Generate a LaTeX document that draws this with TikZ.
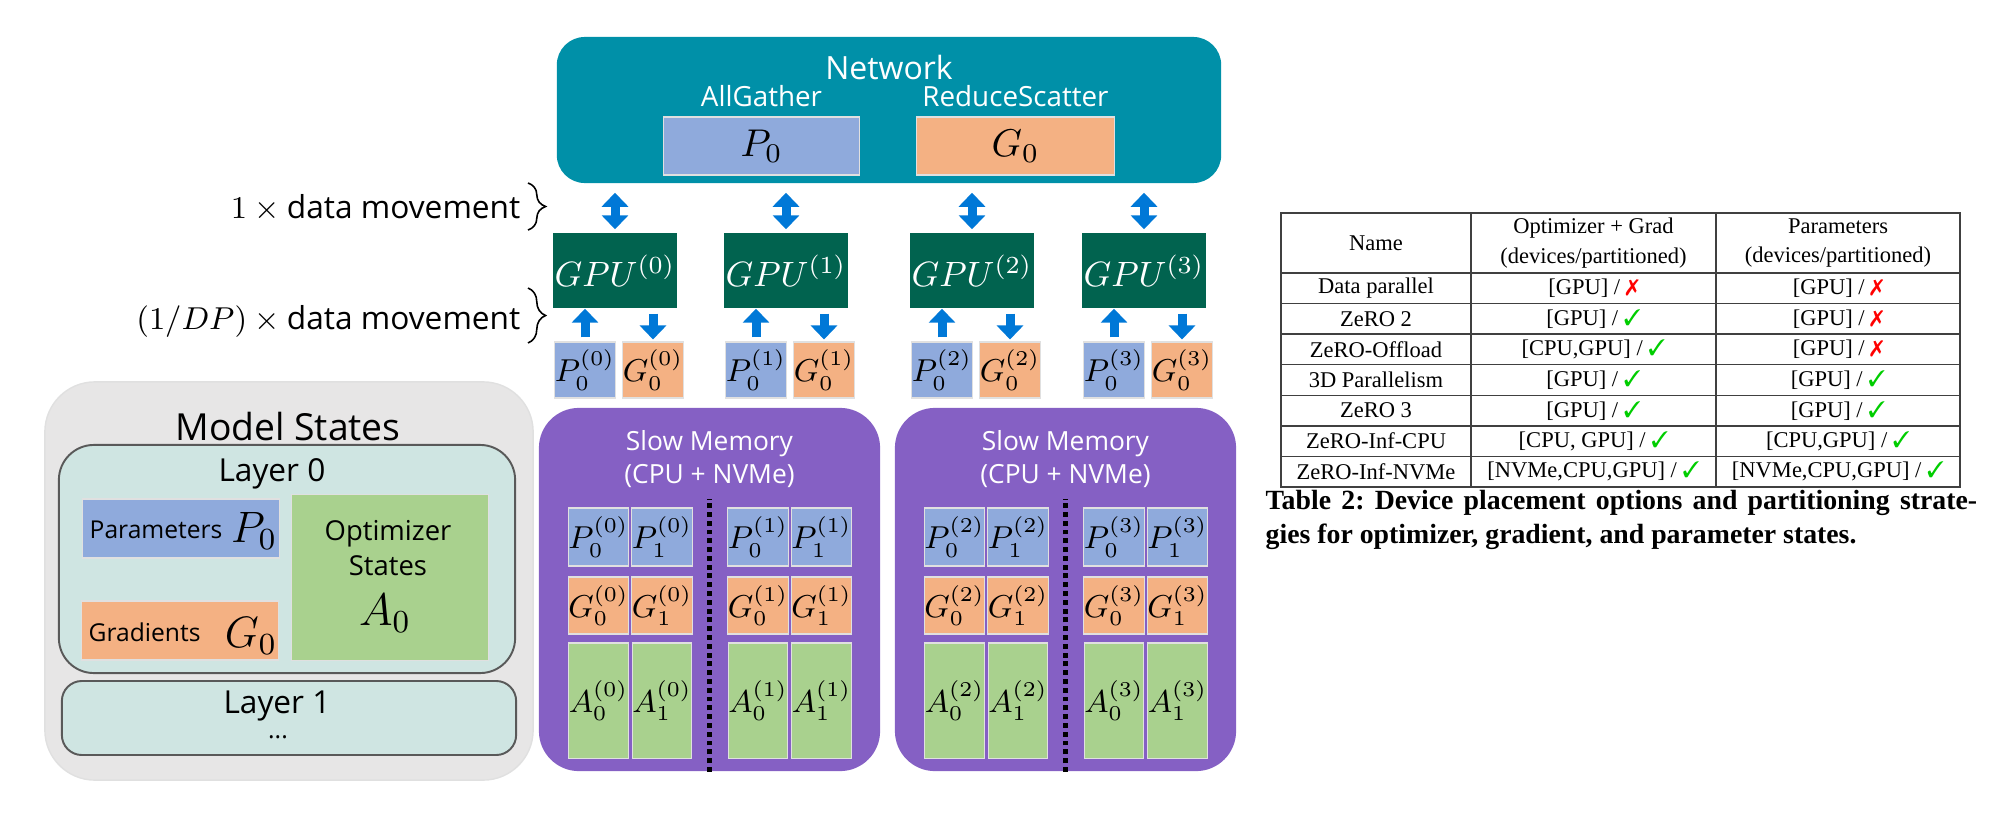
\RequirePackage{fix-cm}
\documentclass[tikz,border=0pt]{standalone}
\usepackage{fontspec}
\setmainfont{Liberation Serif}
\newfontfamily\uisans{Open Sans}
\usepackage{pifont}
\usepackage{xcolor}
\usepackage{tikz}
\usetikzlibrary{positioning,arrows.meta,decorations.pathreplacing}
\definecolor{netteal}{RGB}{0,144,168}
\definecolor{gpugreen}{RGB}{1,99,79}
\definecolor{slowpurple}{RGB}{133,96,196}
\definecolor{parblue}{RGB}{143,170,220}
\definecolor{gradorange}{RGB}{244,177,131}
\definecolor{optgreen}{RGB}{169,209,142}
\definecolor{layerfill}{RGB}{207,229,226}
\definecolor{statesgray}{RGB}{231,230,230}
\definecolor{arrowblue}{RGB}{0,120,215}
\definecolor{tickgreen}{RGB}{0,205,0}
\newcommand{\fsz}[1]{\fontsize{#1}{#1}\selectfont}
\newcommand{\cmark}{\textcolor{tickgreen}{\ding{51}}}
\newcommand{\xmark}{\textcolor{red}{\ding{55}}}
\newcommand{\slsh}{ / }
\frenchspacing

\begin{document}
\begin{tikzpicture}[x=0.01cm,y=-0.01cm,
  stbox/.style={rectangle,inner sep=0pt},
  uitext/.style={font=\uisans\fsz{#1},inner sep=0pt},
  netbox/.style={stbox,fill=netteal,rounded corners=2.8mm,minimum width=66.4mm,minimum height=14.6mm},
  gpu/.style={stbox,fill=gpugreen,text=white,minimum width=12.4mm,minimum height=7.5mm,font=\fsz{10}},
  pbox/.style={stbox,fill=parblue,draw=black!12,line width=0.3pt},
  gbox/.style={stbox,fill=gradorange,draw=black!12,line width=0.3pt},
  abox/.style={stbox,fill=optgreen,draw=black!12,line width=0.3pt},
  pgsq/.style={minimum width=5.6mm,minimum height=5.6mm,font=\fsz{9}},
  memcell/.style={minimum width=5.7mm,font=\fsz{9}},
  slowmem/.style={stbox,fill=slowpurple,rounded corners=4mm,minimum width=34.1mm,minimum height=36.3mm},
  layer/.style={stbox,fill=layerfill,draw=black!65,line width=0.55pt},
  blockarrow/.style={draw=arrowblue,line width=0.9mm,-{Triangle[width=2.6mm,length=1.4mm]}},
  dblarrow/.style={blockarrow,{Triangle[width=2.6mm,length=1.4mm]}-{Triangle[width=2.6mm,length=1.4mm]}},
  mvbrace/.style={decorate,decoration={brace,amplitude=5pt},line width=0.45pt},
  sepline/.style={line width=1.4pt,dash pattern=on 1.4pt off 1.1pt},
  tcell/.style={draw=black!75,line width=0.4pt,inner sep=0pt,minimum height=3.057mm,font=\fsz{6.4}}]
  \useasboundingbox (0,0) rectangle (2000,821);

  % network with the two collectives
  \node[netbox] (net) at (889,110) {};
  \node[uitext=9.1,text=white] (nettitle) at (889,67) {Network};
  \node[pbox,minimum width=19.5mm,minimum height=5.8mm,font=\fsz{11}] (netp) at (761.5,146) {$P_0$};
  \node[gbox,minimum width=19.7mm,minimum height=5.8mm,font=\fsz{11}] (netg) at (1015.5,146) {$G_0$};
  \node[uitext=7.9,text=white,above=0.9mm of netp] (allgather) {AllGather};
  \node[uitext=7.9,text=white,above=0.9mm of netg] (redscat) {ReduceScatter};

  % gpus and their shards
  \foreach \i/\x in {0/615,1/786,2/972,3/1144}{
    \node[gpu] (gpu\i) at (\x,270.5) {$GPU^{(\i)}$};
    \node[pbox,pgsq] (pg\i) at (\x-30,370) {$P_0^{(\i)}$};
    \node[gbox,pgsq] (gg\i) at (\x+38,370) {$G_0^{(\i)}$};
    \draw[dblarrow,shorten <=0.9mm,shorten >=0.3mm] (gpu\i.north |- net.south) -- (gpu\i.north);
    \draw[blockarrow,shorten <=0.4mm] (pg\i.north) -- (pg\i.north |- gpu\i.south);
    \draw[blockarrow,shorten <=0.5mm,shorten >=0.2mm] (gg\i.north |- gpu\i.south) -- (gg\i.north);
  }

  % data movement braces
  \coordinate (br1a) at (528,183);
  \coordinate (br1b) at (528,230);
  \coordinate (br2a) at (528,288);
  \coordinate (br2b) at (528,343);
  \draw[mvbrace] (br1a) -- (br1b);
  \draw[mvbrace] (br2a) -- (br2b);
  \node[uitext=9,anchor=east] (mv1) at (521,208) {$1\times{}$data movement};
  \node[uitext=9,anchor=east] (mv2) at (521,321) {$(1/DP)\times{}$data movement};

  % model states
  \node[stbox,fill=statesgray,draw=black!12,rounded corners=5mm,minimum width=48.8mm,minimum height=39.8mm] (states) at (289,581) {};
  \node[uitext=10.6] (stlabel) at (288,427) {Model States};
  \node[layer,rounded corners=3.5mm,minimum width=45.6mm,minimum height=22.8mm] (layer0) at (287,559) {};
  \node[uitext=9] (l0label) at (272,474) {Layer 0};
  \node[pbox,minimum width=19.6mm,minimum height=5.9mm] (params) at (181,528.5) {};
  \node[uitext=7,anchor=west] (paramtxt) at (89,530) {Parameters};
  \node[font=\fsz{12.5}] (paramsym) at (254,531) {$P_0$};
  \node[gbox,minimum width=19.6mm,minimum height=5.9mm] (grads) at (180,630.5) {};
  \node[uitext=7,anchor=west] (gradtxt) at (88,632) {Gradients};
  \node[font=\fsz{12.5}] (gradsym) at (251,636) {$G_0$};
  \node[abox,minimum width=19.6mm,minimum height=16.5mm] (optim) at (390,577.5) {};
  \node[uitext=7.8,align=center,font=\uisans\fontsize{7.8}{10}\selectfont] (optimtxt) at (388,548) {Optimizer\\States};
  \node[font=\fsz{13}] (optimsym) at (385,613) {$A_0$};
  \node[layer,rounded corners=2mm,minimum width=45.4mm,minimum height=7.4mm] (layer1) at (289,718) {};
  \node[uitext=9] (l1label) at (277,706) {Layer 1};
  \node[uitext=7] (l1dots) at (278,737) {...};

  % slow memory, two devices per box
  \foreach \m/\l/\da/\db in {a/539/0/1,b/895/2/3}{
    \node[slowmem] (mem\m) at (\l+170.5,589.5) {};
    \node[uitext=7.5,text=white,align=center,font=\uisans\fontsize{7.5}{9.4}\selectfont] (memtxt\m) at (\l+170.5,459) {Slow Memory\\(CPU + NVMe)};
    \foreach \d/\o in {\da/0,\db/159.5}{
      \foreach \j/\c in {0/59.5,1/123}{
        \node[pbox,memcell,minimum height=5.8mm] (mp\d\j) at (\l+\o+\c,537) {$P_{\j}^{(\d)}$};
        \node[gbox,memcell,minimum height=5.7mm] (mg\d\j) at (\l+\o+\c,605.5) {$G_{\j}^{(\d)}$};
        \node[abox,memcell,minimum height=11.5mm] (ma\d\j) at (\l+\o+\c,700.5) {$A_{\j}^{(\d)}$};
      }
    }
    \draw[sepline] (mem\m.south) -- ++(0,-273);
  }

  % table 2
  \node[tcell,minimum width=19mm,minimum height=6mm] (hname) at (1376,243) {Name};
  \node[tcell,minimum width=24.5mm,minimum height=6mm,align=center,font=\fontsize{6.4}{8.5}\selectfont] (hopt) at (1593.5,243) {Optimizer + Grad\\(devices/partitioned)};
  \node[tcell,minimum width=24.4mm,minimum height=6mm,align=center,font=\fontsize{6.4}{8.5}\selectfont] (hpar) at (1838,243) {Parameters\\(devices/partitioned)};
  \foreach \k/\nm/\og/\pa in {
      0/Data parallel/{[GPU]\slsh\xmark}/{[GPU]\slsh\xmark},
      1/ZeRO 2/{[GPU]\slsh\cmark}/{[GPU]\slsh\xmark},
      2/ZeRO-Offload/{[CPU,GPU]\slsh\cmark}/{[GPU]\slsh\xmark},
      3/3D Parallelism/{[GPU]\slsh\cmark}/{[GPU]\slsh\cmark},
      4/ZeRO 3/{[GPU]\slsh\cmark}/{[GPU]\slsh\cmark},
      5/ZeRO-Inf-CPU/{[CPU, GPU]\slsh\cmark}/{[CPU,GPU]\slsh\cmark},
      6/ZeRO-Inf-NVMe/{[NVMe,CPU,GPU]\slsh\cmark}/{[NVMe,CPU,GPU]\slsh\cmark}}{
    \node[tcell,minimum width=19mm] (name\k) at (1376,288.3+30.57*\k) {\nm};
    \node[tcell,minimum width=24.5mm] (opt\k) at (1593.5,288.3+30.57*\k) {\og};
    \node[tcell,minimum width=24.4mm] (par\k) at (1838,288.3+30.57*\k) {\pa};
  }
  \node[anchor=west,inner sep=0pt,font=\bfseries\fsz{7.9}] (cap1) at (1265,503) {\makebox[71.1mm][s]{Table 2: Device placement options and partitioning strate-}};
  \node[anchor=west,inner sep=0pt,font=\bfseries\fsz{7.9}] (cap2) at (1265,537) {gies for optimizer, gradient, and parameter states.};
\end{tikzpicture}
\end{document}
